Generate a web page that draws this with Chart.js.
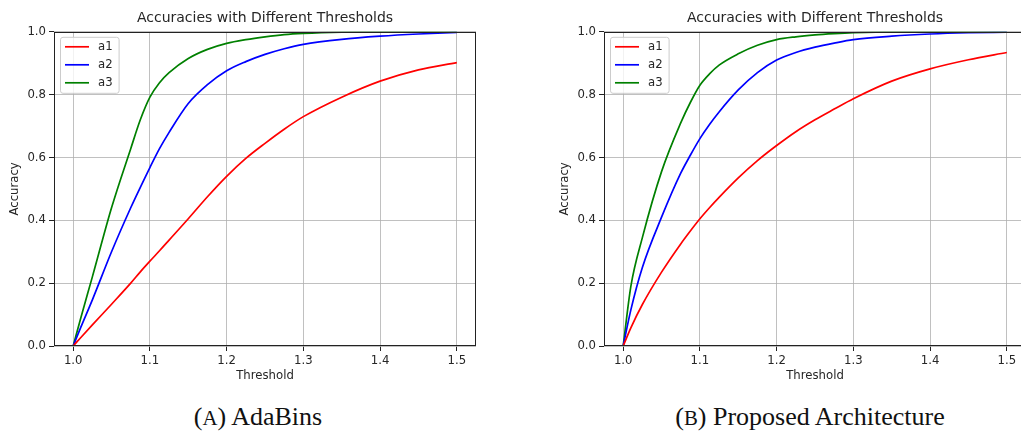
<!DOCTYPE html>
<html>
<head>
<meta charset="utf-8">
<script src="https://cdn.jsdelivr.net/npm/chart.js@4"></script>
<style>
  html, body { margin: 0; padding: 0; background: #fff; overflow: hidden; }
  body { width: 1021px; height: 433px; position: relative; }
  canvas { position: absolute; top: 0; }
  #chartA { left: 0; }
  #chartB { left: 550px; }
  .caption {
    position: absolute; top: 404px; width: 400px; text-align: center;
    font-family: "Liberation Serif", "DejaVu Serif", serif; font-size: 26px;
    line-height: 26px; color: #111;
  }
  .sc { font-size: 0.8em; }
</style>
</head>
<body>
<canvas id="chartA" width="500" height="390"></canvas>
<canvas id="chartB" width="500" height="390"></canvas>
<div class="caption" style="left:58px">(<span class="sc">A</span>) AdaBins</div>
<div class="caption" style="left:610px">(<span class="sc">B</span>) Proposed Architecture</div>
<script>
// thresholds shared by both panels
const thresholds = [1.0, 1.01, 1.025, 1.05, 1.075, 1.0875, 1.1, 1.1125, 1.125, 1.15, 1.175, 1.2, 1.225, 1.25, 1.275, 1.3, 1.35, 1.4, 1.45, 1.5];

// (A) AdaBins
const adaA1 = [0, 0.027, 0.067, 0.133, 0.2, 0.236, 0.27, 0.303, 0.337, 0.405, 0.475, 0.54, 0.597, 0.645, 0.69, 0.73, 0.792, 0.843, 0.879, 0.902];
const adaA2 = [0, 0.06, 0.147, 0.3, 0.44, 0.505, 0.568, 0.628, 0.68, 0.772, 0.832, 0.876, 0.905, 0.928, 0.946, 0.96, 0.976, 0.986, 0.993, 0.998];
const adaA3 = [0, 0.09, 0.22, 0.44, 0.628, 0.72, 0.792, 0.838, 0.87, 0.915, 0.944, 0.963, 0.975, 0.984, 0.991, 0.995, 0.999, 1.0, 1.0, 1.0];

// (B) Proposed architecture
const propA1 = [0, 0.058, 0.132, 0.235, 0.325, 0.366, 0.405, 0.44, 0.473, 0.535, 0.59, 0.638, 0.682, 0.72, 0.754, 0.787, 0.843, 0.882, 0.911, 0.934];
const propA2 = [0, 0.115, 0.25, 0.41, 0.55, 0.607, 0.66, 0.705, 0.745, 0.815, 0.87, 0.91, 0.934, 0.951, 0.964, 0.975, 0.986, 0.993, 0.997, 0.999];
const propA3 = [0, 0.19, 0.345, 0.555, 0.71, 0.775, 0.83, 0.866, 0.894, 0.93, 0.957, 0.975, 0.984, 0.99, 0.994, 0.997, 1.0, 1.0, 1.0, 1.0];

const seriesLabels = ['a1', 'a2', 'a3'];
const seriesColors = ['#ff0000', '#0000ff', '#008000'];
const xTicks = [1.0, 1.1, 1.2, 1.3, 1.4, 1.5];
const yTicks = [0, 0.2, 0.4, 0.6, 0.8, 1.0];

const FONT = "'DejaVu Sans', sans-serif";
const TEXT = '#262626';

// matplotlib-style box around the axes plus a legend inside the top-left corner
const frameLegend = {
  id: 'frameLegend',
  afterDatasetsDraw(chart) {
    const { ctx, chartArea: a } = chart;
    ctx.save();
    ctx.strokeStyle = '#222';
    ctx.lineWidth = 1;
    ctx.strokeRect(Math.round(a.left) + 0.5, Math.round(a.top) + 0.5,
      Math.round(a.right - a.left) - 1, Math.round(a.bottom - a.top) - 1);

    // legend
    ctx.font = '11.7px ' + FONT;
    const sets = chart.data.datasets;
    const textW = Math.max(...sets.map(d => ctx.measureText(d.label).width));
    const bx = a.left + 6, by = a.top + 5;
    const bw = 39 + textW + 5, bh = 56;
    ctx.beginPath();
    ctx.roundRect(bx + 0.5, by + 0.5, bw, bh, 2.5);
    ctx.fillStyle = 'rgba(255,255,255,0.8)';
    ctx.fill();
    ctx.strokeStyle = '#cccccc';
    ctx.stroke();
    sets.forEach((d, i) => {
      const y = a.top + 15 + i * 18;
      ctx.strokeStyle = d.borderColor;
      ctx.lineWidth = 1.7;
      ctx.beginPath();
      ctx.moveTo(a.left + 11, y);
      ctx.lineTo(a.left + 35, y);
      ctx.stroke();
      ctx.fillStyle = TEXT;
      ctx.textBaseline = 'middle';
      ctx.fillText(d.label, a.left + 44, y + 0.5);
    });
    ctx.restore();
  }
};

function makeChart(id, values) {
  const datasets = values.map((v, i) => ({
    label: seriesLabels[i],
    data: thresholds.map((t, k) => ({ x: t, y: v[k] })),
    borderColor: seriesColors[i],
    borderWidth: 1.7,
    pointRadius: 0,
    cubicInterpolationMode: 'monotone',
    fill: false
  }));

  return new Chart(document.getElementById(id), {
    type: 'line',
    data: { datasets },
    plugins: [frameLegend],
    options: {
      responsive: false,
      animation: false,
      devicePixelRatio: 1,
      layout: { padding: { left: 0, right: 24, top: 0, bottom: 0 } },
      plugins: {
        legend: { display: false },
        tooltip: { enabled: false },
        title: {
          display: true,
          text: 'Accuracies with Different Thresholds',
          fullSize: false,
          color: TEXT,
          font: { family: FONT, size: 14, weight: 'normal' },
          padding: { top: 10, bottom: 5 }
        }
      },
      scales: {
        x: {
          type: 'linear',
          min: 0.975,
          max: 1.525,
          afterBuildTicks: s => { s.ticks = xTicks.map(v => ({ value: v })); },
          afterFit: s => { s.height = 44; },
          ticks: {
            color: TEXT, padding: 3, maxRotation: 0,
            font: { family: FONT, size: 11.7 },
            callback: v => v.toFixed(1)
          },
          grid: { color: '#b0b0b0', lineWidth: 0.8, tickLength: 5, tickColor: '#222', tickWidth: 1 },
          border: { display: false },
          title: {
            display: true, text: 'Threshold', color: TEXT,
            font: { family: FONT, size: 11.7 },
            padding: { top: 0, bottom: 7 }
          }
        },
        y: {
          min: 0,
          max: 1,
          afterBuildTicks: s => { s.ticks = yTicks.map(v => ({ value: v })); },
          afterFit: s => { s.width = 54; },
          ticks: {
            color: TEXT, padding: 3,
            font: { family: FONT, size: 11.7 },
            callback: v => v.toFixed(1)
          },
          grid: { color: '#b0b0b0', lineWidth: 0.8, tickLength: 5, tickColor: '#222', tickWidth: 1 },
          border: { display: false },
          title: {
            display: true, text: 'Accuracy', color: TEXT,
            font: { family: FONT, size: 11.7 },
            padding: { top: 8, bottom: 0 }
          }
        }
      }
    }
  });
}

makeChart('chartA', [adaA1, adaA2, adaA3]);
makeChart('chartB', [propA1, propA2, propA3]);
</script>
</body>
</html>
